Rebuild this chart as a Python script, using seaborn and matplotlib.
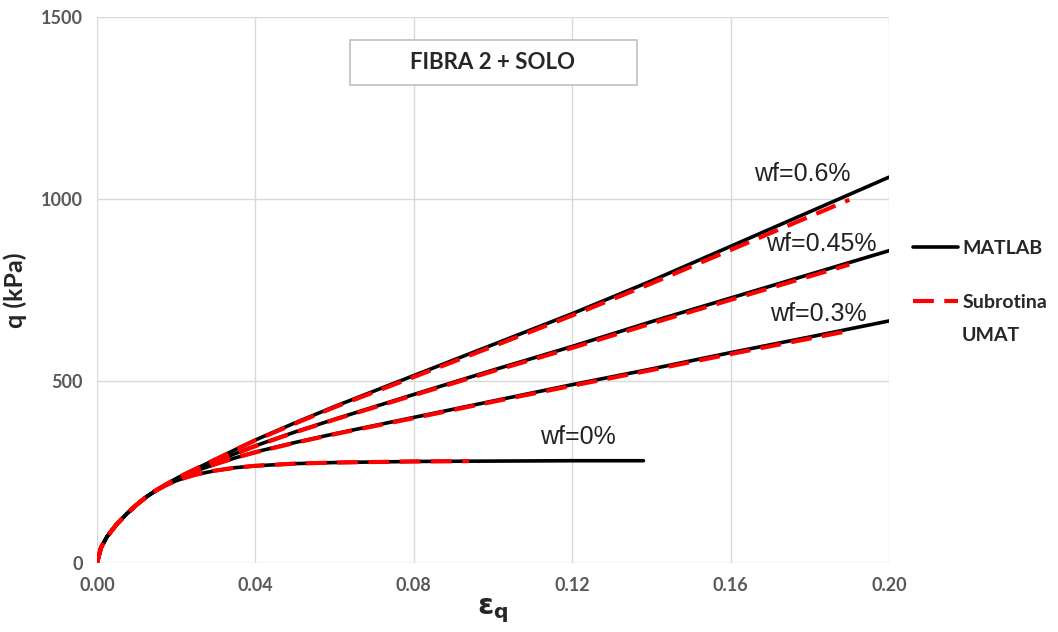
import numpy as np
import pandas as pd
import seaborn as sns
import matplotlib.pyplot as plt
from matplotlib.patches import Rectangle

# Dados (eps_q, q em kPa)
eps_matlab = [0, 0.001, 0.0025, 0.005, 0.0075, 0.01, 0.0125, 0.015, 0.0175, 0.02, 0.0225, 0.025, 0.03, 0.035,
              0.04, 0.05, 0.06, 0.08, 0.10, 0.12, 0.14, 0.16, 0.18, 0.20]
q_wf06 = [0, 42, 72, 107, 135, 160, 182, 200, 216, 232, 246, 259, 285, 312,
          338, 385, 430, 515, 600, 685, 775, 870, 965, 1060]
q_wf045 = [0, 42, 72, 107, 135, 160, 182, 200, 216, 231, 244, 256, 279, 301,
           322, 360, 395, 463, 530, 595, 663, 728, 793, 858]
q_wf03 = [0, 42, 72, 107, 135, 160, 182, 200, 216, 230, 242, 253, 272, 289,
          305, 331, 355, 400, 445, 490, 533, 578, 621, 665]
eps_wf0 = [0, 0.001, 0.0025, 0.005, 0.0075, 0.01, 0.0125, 0.015, 0.0175, 0.02, 0.0225, 0.025, 0.03, 0.035,
           0.04, 0.05, 0.06, 0.08, 0.10, 0.12, 0.138]
q_wf0 = [0, 42, 72, 107, 135, 160, 182, 200, 214, 226, 235, 243, 254, 262,
         267, 273, 276, 279, 280, 281, 281]

eps_umat = [0, 0.001, 0.0025, 0.005, 0.0075, 0.01, 0.0125, 0.015, 0.0175, 0.02, 0.0225, 0.025, 0.03, 0.035,
            0.04, 0.05, 0.06, 0.08, 0.10, 0.12, 0.14, 0.16, 0.19]
q_umat06 = [0, 42, 72, 107, 135, 160, 182, 200, 216, 232, 246, 259, 285, 311,
            337, 383, 428, 511, 595, 680, 768, 860, 998]
q_umat045 = [0, 42, 72, 107, 135, 160, 182, 200, 216, 231, 244, 256, 279, 300,
             321, 359, 394, 461, 527, 591, 658, 723, 820]
q_umat03 = [0, 42, 72, 107, 135, 160, 182, 200, 216, 230, 242, 253, 272, 289,
            304, 330, 354, 398, 443, 487, 530, 574, 638]
eps_umat0 = [0, 0.001, 0.0025, 0.005, 0.0075, 0.01, 0.0125, 0.015, 0.0175, 0.02, 0.0225, 0.025, 0.03, 0.035,
             0.04, 0.05, 0.06, 0.08, 0.094]
q_umat0 = [0, 42, 72, 107, 135, 160, 182, 200, 214, 226, 235, 243, 254, 262,
           267, 273, 276, 279, 280]

labels = ['wf=0.6%', 'wf=0.45%', 'wf=0.3%', 'wf=0%']
label_pos = [(0.166, 1035), (0.169, 843), (0.170, 650), (0.112, 313)]

sns.set_style("white")
plt.rcParams['font.family'] = ['Lato', 'DejaVu Sans']

fig = plt.figure(figsize=(10.58, 6.32), dpi=100)
ax = fig.add_axes([0.0917, 0.1092, 0.7485, 0.8638])

matlab = [(eps_matlab, q_wf06), (eps_matlab, q_wf045), (eps_matlab, q_wf03), (eps_wf0, q_wf0)]
umat = [(eps_umat, q_umat06), (eps_umat, q_umat045), (eps_umat, q_umat03), (eps_umat0, q_umat0)]

for i, (x, y) in enumerate(matlab):
    sns.lineplot(x=x, y=y, ax=ax, color='black', linewidth=2.6, sort=False,
                 label='MATLAB' if i == 0 else None, zorder=3)
for i, (x, y) in enumerate(umat):
    sns.lineplot(x=x, y=y, ax=ax, color='#ff0000', linewidth=3, sort=False,
                 linestyle=(0, (5, 2.5)), label='Subrotina' if i == 0 else None, zorder=4)

for txt, (x, y) in zip(labels, label_pos):
    ax.text(x, y, txt, fontsize=18, family='Liberation Sans', color='#222222', va='bottom', ha='left')

# caixa do titulo
ax.add_patch(Rectangle((0.3194, 0.8755), 0.3624, 0.0825, transform=ax.transAxes,
                       fc='white', ec='#bfbfbf', lw=1.2, zorder=5))
ax.text(0.5, 0.917, 'FIBRA 2 + SOLO', transform=ax.transAxes, fontsize=16, fontweight='bold',
        ha='center', va='center', zorder=6)

ax.set_xlim(0, 0.2)
ax.set_ylim(0, 1500)
ax.set_xticks([0, 0.04, 0.08, 0.12, 0.16, 0.20])
ax.set_xticklabels(['0.00', '0.04', '0.08', '0.12', '0.16', '0.20'])
ax.set_yticks([0, 500, 1000, 1500])
ax.grid(True, color='#d9d9d9', linewidth=1)
for s in ax.spines.values():
    s.set_visible(False)
ax.tick_params(axis='both', length=0, labelsize=13, labelcolor='#595959', pad=10)
for lab in ax.get_xticklabels() + ax.get_yticklabels():
    lab.set_fontweight('bold')

ax.set_ylabel('q (kPa)', fontsize=18, fontweight='bold', labelpad=10)
ax.set_xlabel(r'$\mathbf{\epsilon_q}$', fontsize=21, labelpad=2)

ax.legend_.remove()
h, l = ax.get_legend_handles_labels()
fig.legend(h, l, loc='upper left', bbox_to_anchor=(0.863, 1 - 240 / 632), frameon=False,
           borderpad=0, borderaxespad=0, handlelength=2.3, handletextpad=0.25, labelspacing=1.9,
           prop={'weight': 'bold', 'size': 14})
fig.text(0.909, 1 - 335 / 632, 'UMAT', fontsize=14, fontweight='bold', va='center', ha='left')

fig.savefig('out.png', dpi=100)
